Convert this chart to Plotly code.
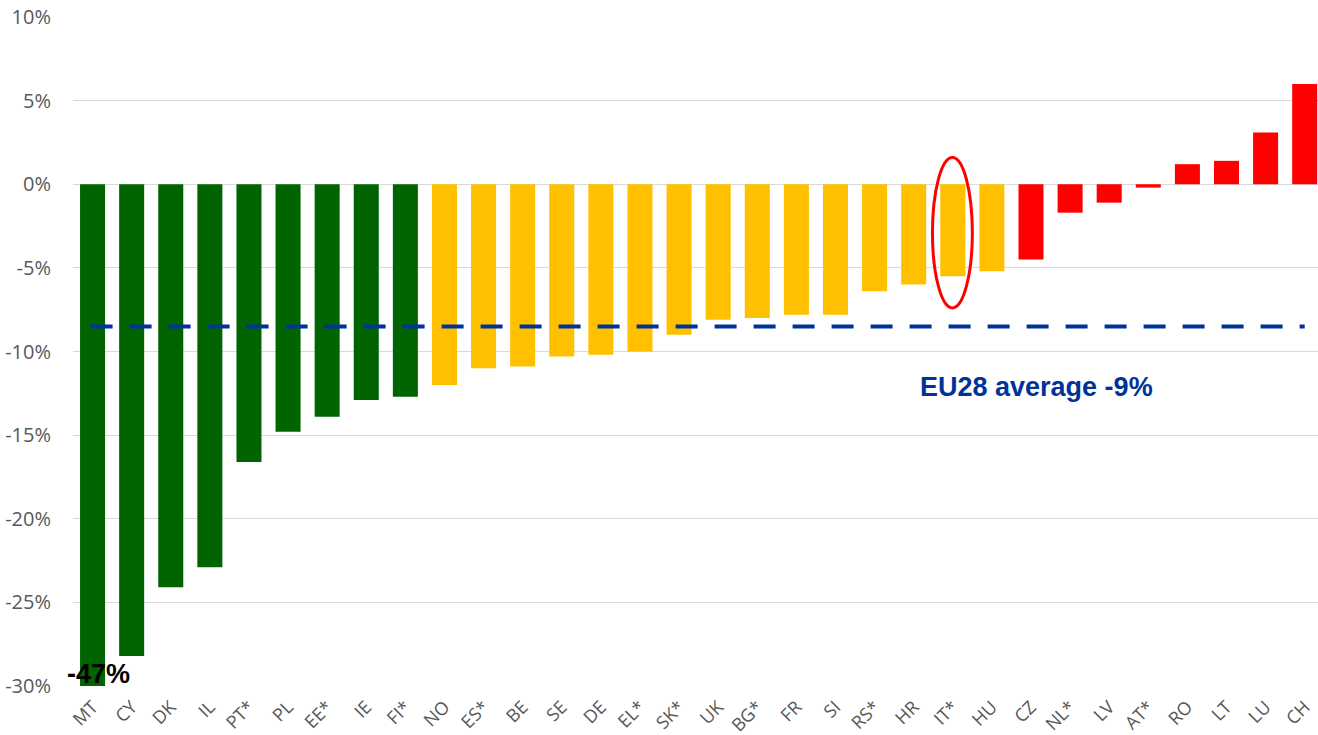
import plotly.graph_objects as go

# countries, sorted by change
countries = ['MT', 'CY', 'DK', 'IL', 'PT*', 'PL', 'EE*', 'IE', 'FI*', 'NO',
             'ES*', 'BE', 'SE', 'DE', 'EL*', 'SK*', 'UK', 'BG*', 'FR', 'SI',
             'RS*', 'HR', 'IT*', 'HU', 'CZ', 'NL*', 'LV', 'AT*', 'RO', 'LT',
             'LU', 'CH']
# change in % (MT is -47, cut at the bottom of the axis)
change = [-47, -28.2, -24.1, -22.9, -16.6, -14.8, -13.9, -12.9, -12.7, -12.0,
          -11.0, -10.9, -10.3, -10.2, -10.0, -9.0, -8.1, -8.0, -7.8, -7.8,
          -6.4, -6.0, -5.5, -5.2, -4.5, -1.7, -1.1, -0.2, 1.2, 1.4,
          3.1, 6.0]
group = ['g'] * 9 + ['y'] * 15 + ['r'] * 8
eu_avg = -8.5
y_ticks = [10, 5, 0, -5, -10, -15, -20, -25, -30]

colours = {'g': '#006400', 'y': '#FFC000', 'r': '#FF0000'}

fig = go.Figure()
fig.add_trace(go.Bar(x=countries, y=change,
                     marker=dict(color=[colours[g] for g in group], line=dict(width=0)),
                     width=0.64, showlegend=False))

# EU average line
fig.add_trace(go.Scatter(x=[-0.05, 31.0], y=[eu_avg, eu_avg], mode='lines',
                         line=dict(color='#003399', width=4, dash='22px,17px'),
                         showlegend=False, xaxis='x2'))

# highlight IT*
it = countries.index('IT*')
fig.add_shape(type='circle', xref='x2', yref='y', x0=it - 0.52, x1=it + 0.5,
              y0=-7.4, y1=1.6, line=dict(color='#FF0000', width=3))

fig.add_annotation(x=24.15, y=-12.1, xref='x2', yref='y', text='<b>EU28 average -9%</b>',
                   showarrow=False, font=dict(family='Liberation Sans', size=27, color='#003399'))
fig.add_annotation(x=0.14, y=-29.3, xref='x2', yref='y', text='<b>-47%</b>',
                   showarrow=False, font=dict(family='Liberation Sans', size=27, color='#000000'))

fig.update_layout(
    width=1318, height=735,
    margin=dict(l=73, r=0, t=17, b=49),
    plot_bgcolor='white', paper_bgcolor='white',
    font=dict(family='Open Sans', color='#595959'),
    xaxis=dict(range=[-0.5, 31.34], tickangle=-45, tickfont=dict(size=18, color='#595959'),
               showgrid=False, zeroline=False, showline=False, ticks='', automargin=False,
               ticklabelstandoff=6),
    xaxis2=dict(range=[-0.5, 31.34], overlaying='x', visible=False),
    yaxis=dict(range=[-30, 10], tickvals=y_ticks, ticktext=[f'{v}%' for v in y_ticks],
               tickfont=dict(size=20, color='#595959'), showgrid=True,
               gridcolor='#d9d9d9', gridwidth=1, zeroline=False, ticks='',
               ticklabelstandoff=21, automargin=False),
)

fig.write_html("out.html", config={'displayModeBar': False},
               post_script="document.body.style.margin='0';")
